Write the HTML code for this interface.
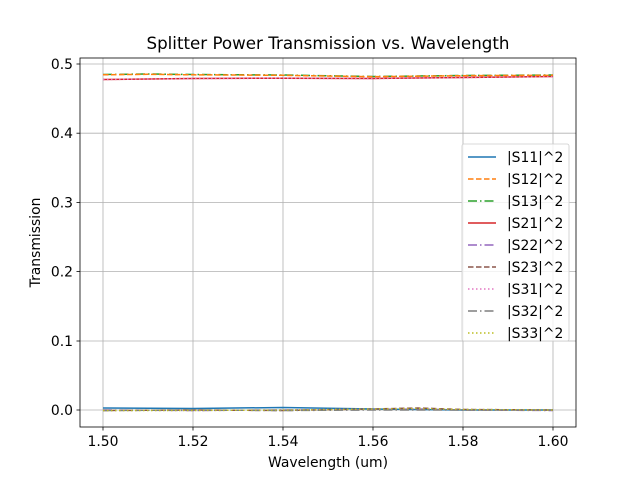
<!DOCTYPE html>
<html><head><style>body{margin:0;background:#fff}</style></head><body>
<svg width="640" height="480" xmlns="http://www.w3.org/2000/svg" font-family="DejaVu Sans, Liberation Sans, sans-serif">
<rect width="640" height="480" fill="#fff"/>
<g stroke="#b0b0b0" stroke-width="0.8">
<line x1="103" y1="58" x2="103" y2="427"/><line x1="193" y1="58" x2="193" y2="427"/><line x1="283" y1="58" x2="283" y2="427"/><line x1="373" y1="58" x2="373" y2="427"/><line x1="463" y1="58" x2="463" y2="427"/><line x1="553" y1="58" x2="553" y2="427"/>
<line x1="80" y1="410" x2="576" y2="410"/><line x1="80" y1="341" x2="576" y2="341"/><line x1="80" y1="271.6" x2="576" y2="271.6"/><line x1="80" y1="202.4" x2="576" y2="202.4"/><line x1="80" y1="133.2" x2="576" y2="133.2"/><line x1="80" y1="64" x2="576" y2="64"/>
</g>
<g fill="none" stroke-width="1.5">
<polyline stroke="#d62728" points="103,79.5 193,78.5 283,78.2 373,78.5 463,77.5 553,76.5"/>
<polyline stroke="#e377c2" stroke-dasharray="1.5,2.5" points="103,79.5 193,78.5 283,78.2 373,78.5 463,77.5 553,76.5"/>
<polyline stroke="#2ca02c" stroke-dasharray="9,3,1.5,3" points="103,74.5 148,74 193,74.5 283,75 373,76.5 463,75.5 553,75"/>
<polyline stroke="#ff7f0e" stroke-dasharray="5.5,2.5" points="103,74.8 148,74.3 193,74.8 283,75.3 373,76.7 463,75.7 553,75.3"/>
<polyline stroke="#1f77b4" points="103,408 193,408.5 283,407.5 373,409 463,410 553,410"/>
<polyline stroke="#9467bd" stroke-dasharray="9,3,1.5,3" points="103,410 193,410.5 283,410 373,409.5 418,409 463,410 553,410.5"/>
<polyline stroke="#8c564b" stroke-dasharray="5.5,2.5" points="103,410.5 193,410 283,410.5 373,409 418,408 463,409.5 553,410"/>
<polyline stroke="#7f7f7f" stroke-dasharray="9,3,1.5,3" points="103,410.5 193,410 283,410.5 373,410 463,410 553,410"/>
<polyline stroke="#bcbd22" stroke-dasharray="1.5,2.5" points="103,410.5 193,410.5 283,410 373,409 418,408.5 463,409.5 553,410"/>
</g>
<rect x="80" y="58" width="496" height="369" fill="none" stroke="#000" stroke-width="0.8"/>
<g stroke="#000" stroke-width="0.8">
<line x1="103" y1="427" x2="103" y2="430.5"/><line x1="193" y1="427" x2="193" y2="430.5"/><line x1="283" y1="427" x2="283" y2="430.5"/><line x1="373" y1="427" x2="373" y2="430.5"/><line x1="463" y1="427" x2="463" y2="430.5"/><line x1="553" y1="427" x2="553" y2="430.5"/>
<line x1="76.5" y1="410" x2="80" y2="410"/><line x1="76.5" y1="341" x2="80" y2="341"/><line x1="76.5" y1="271.6" x2="80" y2="271.6"/><line x1="76.5" y1="202.4" x2="80" y2="202.4"/><line x1="76.5" y1="133.2" x2="80" y2="133.2"/><line x1="76.5" y1="64" x2="80" y2="64"/>
</g>
<g font-size="13.9" text-anchor="middle" fill="#000">
<text x="103" y="446">1.50</text><text x="193" y="446">1.52</text><text x="283" y="446">1.54</text><text x="373" y="446">1.56</text><text x="463" y="446">1.58</text><text x="553" y="446">1.60</text>
</g>
<g font-size="13.9" text-anchor="end" fill="#000">
<text x="73" y="415">0.0</text><text x="73" y="346">0.1</text><text x="73" y="276.6">0.2</text><text x="73" y="207.4">0.3</text><text x="73" y="138.2">0.4</text><text x="73" y="69">0.5</text>
</g>
<text x="328" y="467" font-size="13.9" text-anchor="middle">Wavelength (um)</text>
<text transform="translate(40,242.5) rotate(-90)" font-size="13.9" text-anchor="middle">Transmission</text>
<text x="328" y="49" font-size="16.7" text-anchor="middle">Splitter Power Transmission vs. Wavelength</text>
<rect x="462" y="144" width="107" height="197" rx="2" fill="#fff" fill-opacity="0.8" stroke="#ccc" stroke-width="0.8"/>
<g stroke-width="1.5" fill="none">
<line x1="468" y1="157" x2="496" y2="157" stroke="#1f77b4"/>
<line x1="468" y1="179" x2="496" y2="179" stroke="#ff7f0e" stroke-dasharray="5.5,2.5"/>
<line x1="468" y1="201" x2="496" y2="201" stroke="#2ca02c" stroke-dasharray="9,3,1.5,3"/>
<line x1="468" y1="223" x2="496" y2="223" stroke="#d62728"/>
<line x1="468" y1="245" x2="496" y2="245" stroke="#9467bd" stroke-dasharray="9,3,1.5,3"/>
<line x1="468" y1="267" x2="496" y2="267" stroke="#8c564b" stroke-dasharray="5.5,2.5"/>
<line x1="468" y1="289" x2="496" y2="289" stroke="#e377c2" stroke-dasharray="1.5,2.5"/>
<line x1="468" y1="311" x2="496" y2="311" stroke="#7f7f7f" stroke-dasharray="9,3,1.5,3"/>
<line x1="468" y1="333" x2="496" y2="333" stroke="#bcbd22" stroke-dasharray="1.5,2.5"/>
</g>
<g font-size="13.9" fill="#000">
<text x="507" y="162">|S11|^2</text><text x="507" y="184">|S12|^2</text><text x="507" y="206">|S13|^2</text><text x="507" y="228">|S21|^2</text><text x="507" y="250">|S22|^2</text><text x="507" y="272">|S23|^2</text><text x="507" y="294">|S31|^2</text><text x="507" y="316">|S32|^2</text><text x="507" y="338">|S33|^2</text>
</g>
</svg>
</body></html>
